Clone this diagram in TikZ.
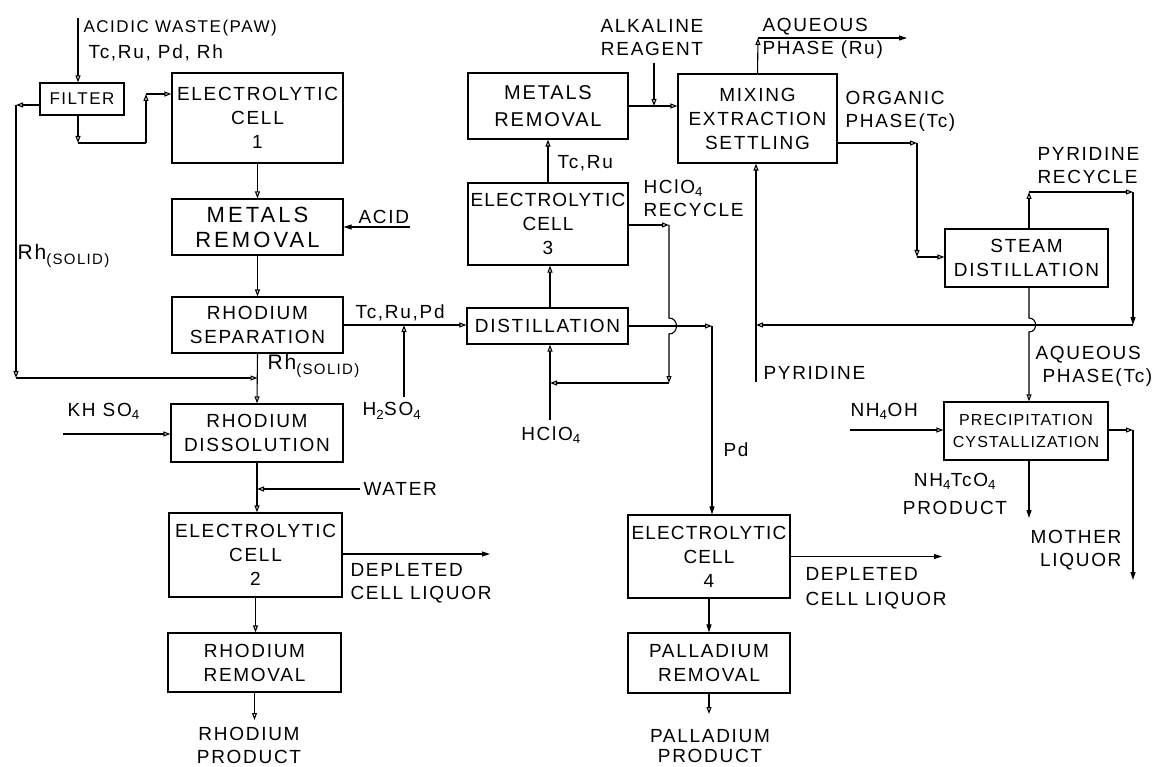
\documentclass[tikz,border=0pt]{standalone}
\usepackage{fontspec}
\setmainfont{Liberation Sans}[LetterSpace=9]
\usetikzlibrary{arrows.meta}
\newcommand\lowpart[1]{\raisebox{-0.45ex}{\fontsize{15}{15}\selectfont #1}}
\begin{document}
\begin{tikzpicture}[x=1pt,y=-1pt,line width=1.1pt,
  box/.style={draw,line width=1.2pt,align=center,inner sep=0pt,font=\fontsize{19}{24}\selectfont},
  tight/.style={font=\fontsize{19}{24}\selectfont\addfontfeature{LetterSpace=6}},
  sz/.style 2 args={minimum width=#1,minimum height=#2},
  lbl/.style={inner sep=0pt,align=left,font=\fontsize{19}{23}\selectfont},
  arr/.style={-{Triangle[open,length=7pt,width=5pt]}},
  farr/.style={-{Triangle[length=8pt,width=5pt]}}]
\fill[white] (0,0) rectangle (1153,767);
\useasboundingbox (0,0) rectangle (1153,767);

% ---------- boxes ----------
\node[box,sz={84pt}{32pt},font=\fontsize{17}{20}\selectfont] (filter) at (82,99) {FILTER};
\node[box,sz={171pt}{90pt}] (ec1) at (257.5,118) {ELECTROLYTIC\\CELL\\1};
\node[box,sz={171pt}{56pt},font=\fontsize{22}{25}\selectfont\addfontfeature{LetterSpace=14}] (mr1) at (257.5,227) {METALS\\REMOVAL};
\node[box,sz={171pt}{56pt}] (rs) at (257.5,325) {RHODIUM\\SEPARATION};
\node[box,sz={172pt}{58pt}] (rd) at (257,433) {RHODIUM\\DISSOLUTION};
\node[box,sz={173pt}{84pt}] (ec2) at (255.5,555) {ELECTROLYTIC\\CELL\\2};
\node[box,sz={173pt}{59pt}] (rr) at (254.5,662.5) {RHODIUM\\REMOVAL};
\node[box,sz={160pt}{66pt},font=\fontsize{20}{27}\selectfont] (mr2) at (548,106) {METALS\\REMOVAL};
\node[box,tight,sz={160pt}{82pt}] (ec3) at (548,224) {ELECTROLYTIC\\CELL\\3};
\node[box,sz={161pt}{36pt}] (dist) at (547.5,326) {DISTILLATION};
\node[box,tight,sz={162pt}{83pt}] (ec4) at (709,556.5) {ELECTROLYTIC\\CELL\\4};
\node[box,sz={162pt}{60pt}] (pr) at (709,663) {PALLADIUM\\REMOVAL};
\node[box,sz={159pt}{89pt}] (mix) at (757.5,118.5) {MIXING\\EXTRACTION\\SETTLING};
\node[box,sz={163pt}{58pt}] (sd) at (1026.5,258) {STEAM\\DISTILLATION};
\node[box,sz={164pt}{58pt},font=\fontsize{16}{22}\selectfont\addfontfeature{LetterSpace=7}] (pc) at (1026,431) {PRECIPITATION\\CYSTALLIZATION};

% ---------- free ends ----------
\coordinate (inPAW) at (78,18);
\coordinate (f1) at (78,143);
\coordinate (f2) at (146,143);
\coordinate (f3) at (146,94);
\coordinate (g1) at (16,105);
\coordinate (g2) at (16,378);
\coordinate (acid) at (410,227);
\coordinate (h2) at (404,397);
\coordinate (kh) at (63,434);
\coordinate (wat) at (360,489);
\coordinate (dep1) at (490,554);
\coordinate (rp) at (255,720);
\coordinate (alk) at (654,63);
\coordinate (r1) at (669,225);
\coordinate (r2) at (669,383);
\coordinate (hc) at (550,420);
\coordinate (pd1) at (712,326);
\coordinate (dep2) at (942,557);
\coordinate (pp) at (709,714);
\coordinate (aq1) at (758,38);
\coordinate (aq2) at (907,38);
\coordinate (o1) at (917,143);
\coordinate (o2) at (917,257);
\coordinate (p1) at (1029,192);
\coordinate (p2) at (1133,192);
\coordinate (p3) at (1133,325);
\coordinate (p4) at (756,325);
\coordinate (py) at (756,382);
\coordinate (nh) at (850,430);
\coordinate (m1) at (1133,430);
\coordinate (m2) at (1133,580);
\coordinate (np) at (1029,518);

% ---------- left column connectors ----------
\draw[arr] (inPAW) -- (inPAW |- filter.north);
\draw[arr] (filter.south -| f1) -- (f1);
\draw (f1) -- (f2);
\draw[arr] (f2) -- (f3);
\draw[arr] (f3) -- (f3 -| ec1.west);
\draw[arr] (filter.west |- g1) -- (g1);
\draw[arr] (g1) -- (g2);
\draw[arr] (g2) -- (g2 -| rs.south);
\draw[arr] (ec1.south) -- (mr1.north);
\draw[farr] (acid) -- (acid -| mr1.east);
\draw[arr] (mr1.south) -- (rs.north);
\draw[arr] (rs.east) -- (rs.east -| dist.west);
\draw[arr] (h2) -- (h2 |- rs.east);
\draw[arr] (rs.south) -- (rd.north);
\draw[arr] (kh) -- (kh -| rd.west);
\draw[arr] (rd.south) -- (rd.south |- ec2.north);
\draw[arr] (wat) -- (wat -| rd.south);
\draw[farr] (ec2.east |- dep1) -- (dep1);
\draw[arr] (ec2.south) -- (ec2.south |- rr.north);
\draw[arr] (rr.south) -- (rr.south |- rp);

% ---------- middle column connectors ----------
\draw[arr] (dist.north -| hc) -- (hc |- ec3.south);
\draw[arr] (ec3.north) -- (mr2.south);
\draw[arr] (mr2.east) -- (mr2.east -| mix.west);
\draw[arr] (alk) -- (alk |- mr2.east);
\draw[arr] (ec3.east |- r1) -- (r1);
\draw[arr] (r1) -- (669,318) to[out=0,in=0,looseness=1.6] (669,334) -- (r2);
\draw[arr] (r2) -- (hc |- r2);
\draw[arr] (hc) -- (hc |- dist.south);
\draw[arr] (dist.east) -- (pd1);
\draw[farr] (pd1) -- (pd1 |- ec4.north);
\draw[farr] (ec4.east) -- (ec4.east -| dep2);
\draw[farr] (ec4.south) -- (pr.north);
\draw[arr] (pr.south) -- (pp);

% ---------- right column connectors ----------
\draw[arr] (mix.north) -- (aq1);
\draw[farr] (aq1) -- (aq2);
\draw[arr] (mix.east |- o1) -- (o1);
\draw[arr] (o1) -- (o2);
\draw[arr] (o2) -- (o2 -| sd.west);
\draw[arr] (sd.north -| p1) -- (p1);
\draw[arr] (p1) -- (p2);
\draw[farr] (p2) -- (p3);
\draw[arr] (p3) -- (p4);
\draw[arr] (py) -- (py |- mix.south);
\draw[arr] (sd.south -| p1) -- (1029,318) to[out=0,in=0,looseness=1.6] (1029,332) -- (p1 |- pc.north);
\draw[arr] (nh) -- (nh -| pc.west);
\draw[arr] (pc.east |- m1) -- (m1);
\draw[farr] (m1) -- (m2);
\draw[farr] (pc.south -| np) -- (np);

% ---------- labels ----------
\node[lbl,anchor=west,font=\fontsize{17}{20}\selectfont] (tpaw) at (83,28) {ACIDIC WASTE(PAW)};
\node[lbl,anchor=west] (tmet) at (88,53) {Tc,Ru, Pd, Rh};
\node[lbl,anchor=west,font=\fontsize{21}{23}\selectfont] (trh1) at (17,256) {Rh\lowpart{(SOLID)}};
\node[lbl,anchor=west] (tacid) at (358,217) {ACID};
\node[lbl,anchor=west] (ttrp) at (355,313) {Tc,Ru,Pd};
\node[lbl,anchor=west,font=\fontsize{21}{23}\selectfont] (trh2) at (267,366) {Rh\lowpart{(SOLID)}};
\node[lbl,anchor=west] (th2) at (362,411) {H\textsubscript{2}SO\textsubscript{4}};
\node[lbl,anchor=west] (tkh) at (67,411) {KH SO\textsubscript{4}};
\node[lbl,anchor=west] (twat) at (363,489) {WATER};
\node[lbl,anchor=west] (tdep1) at (350,583) {DEPLETED\\CELL LIQUOR};
\node[lbl,align=center] (trp) at (249,745) {RHODIUM\\PRODUCT};
\node[lbl,align=center] (talk) at (652,38) {ALKALINE\\REAGENT};
\node[lbl,anchor=west] (ttr) at (557,163) {Tc,Ru};
\node[lbl,anchor=west] (trec) at (643,198) {HClO\textsubscript{4}\\RECYCLE};
\node[lbl] (thc) at (551,435) {HClO\textsubscript{4}};
\node[lbl,anchor=west] (tpd) at (723,450) {Pd};
\node[lbl,anchor=west,font=\fontsize{19}{25}\selectfont] (tdep2) at (805,588) {DEPLETED\\CELL LIQUOR};
\node[lbl,align=center,font=\fontsize{19}{20}\selectfont] (tpp) at (710,746) {PALLADIUM\\PRODUCT};
\node[lbl,anchor=west] (taq1) at (762,38) {AQUEOUS\\PHASE (Ru)};
\node[lbl,anchor=west] (torg) at (845,111) {ORGANIC\\PHASE(Tc)};
\node[lbl,anchor=west] (tpyr) at (1037,166) {PYRIDINE\\RECYCLE};
\node[lbl,anchor=west] (tpy) at (763,373) {PYRIDINE};
\node[lbl,anchor=west] (taq2) at (1035,366) {AQUEOUS\\\ PHASE(Tc)};
\node[lbl,anchor=west] (tnh) at (850,411) {NH\textsubscript{4}OH};
\node[lbl,align=center,font=\fontsize{19}{28}\selectfont] (tnp) at (955,494) {NH\textsubscript{4}TcO\textsubscript{4}\\PRODUCT};
\node[lbl,anchor=east,align=right] (tml) at (1122,550) {MOTHER\\LIQUOR};
\end{tikzpicture}
\end{document}
